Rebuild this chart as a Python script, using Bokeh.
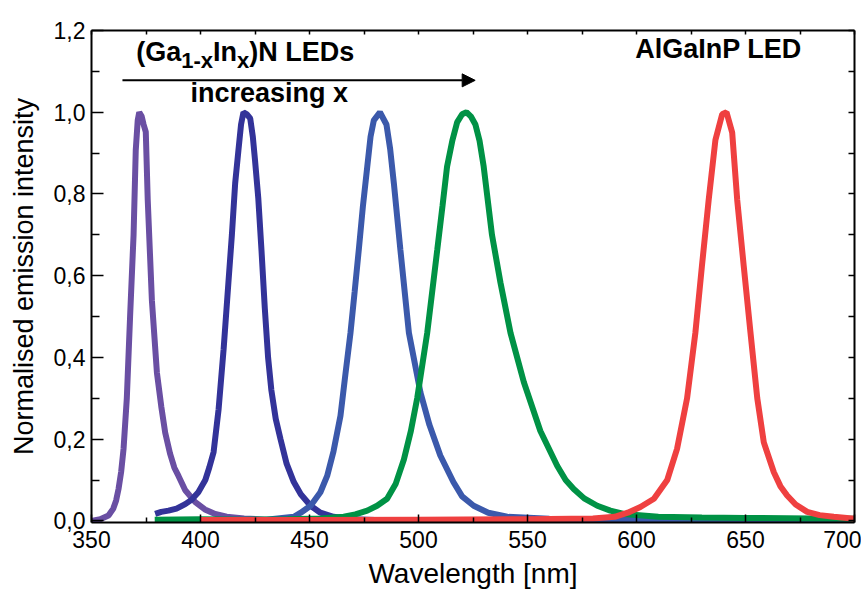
from bokeh.plotting import figure
from bokeh.models import (LinearAxis, FixedTicker, CustomJSTickFormatter, Range1d,
                          Label, Arrow, NormalHead, CustomLabelingPolicy)
from bokeh.embed import file_html
from bokeh.resources import INLINE

# ---------------- data ----------------
wl_purple = [350, 354, 357.8, 360, 361.3, 362.4, 363.6, 364.7, 366.2, 367.7, 369.3, 370.3,
             371.2, 371.9, 373.0, 373.9, 374.9, 375.8, 377.7, 380, 382, 383.8, 386, 388,
             389.9, 393, 397.6, 402, 406.7, 412, 420, 430, 445]
int_purple = [0.0, 0.004, 0.013, 0.03, 0.05, 0.078, 0.12, 0.176, 0.30, 0.50, 0.70, 0.907,
              0.98, 1.0, 0.99, 0.97, 0.952, 0.785, 0.54, 0.363, 0.28, 0.216, 0.165, 0.13,
              0.11, 0.075, 0.046, 0.028, 0.017, 0.01, 0.006, 0.003, 0.001]

wl_navy = [379.2, 382, 385.3, 389, 393, 396, 399, 402.2, 404, 406, 408.3, 410.6, 412.8,
           414.4, 415.9, 417.4, 418.6, 419.7, 421.3, 422.8, 424, 425, 426.5, 428, 429.5,
           431, 432.5, 434.5, 436.7, 439.5, 442.8, 446, 450.5, 455, 461, 470, 480, 500]
int_navy = [0.017, 0.022, 0.025, 0.03, 0.041, 0.052, 0.07, 0.10, 0.13, 0.168, 0.273, 0.42,
            0.583, 0.70, 0.826, 0.907, 0.97, 1.0, 0.995, 0.985, 0.94, 0.883, 0.79, 0.66,
            0.52, 0.40, 0.32, 0.25, 0.2, 0.14, 0.095, 0.065, 0.037, 0.02, 0.01, 0.004,
            0.002, 0.0]

wl_blue = [420, 430, 442.8, 446, 450.5, 455, 458.1, 461, 464.2, 466.5, 468.8, 470.7, 472.6,
           474.5, 476.5, 478, 479.5, 482.3, 485.3, 487, 488.7, 491.7, 495.6, 500.9, 505,
           510, 516, 520, 525.3, 532, 540.7, 560, 600, 650, 700]
int_blue = [0.0, 0.003, 0.01, 0.02, 0.037, 0.07, 0.11, 0.17, 0.257, 0.36, 0.46, 0.56, 0.663,
            0.77, 0.867, 0.94, 0.98, 1.0, 0.97, 0.91, 0.826, 0.663, 0.46, 0.314, 0.235,
            0.16, 0.095, 0.06, 0.037, 0.02, 0.01, 0.005, 0.003, 0.002, 0.002]

wl_green = [379, 400, 420, 440, 455, 465.7, 471, 476.5, 481, 485.6, 489.5, 493.3, 496.5,
            499.4, 504, 508.6, 511, 513.1, 515.5, 517.7, 520, 522, 524, 526.1, 528, 529.9,
            533.7, 537.6, 542.2, 548.3, 555.9, 563.6, 567.5, 571.2, 576, 582, 588, 594.2,
            610, 630, 650, 680, 701]
int_green = [0.003, 0.004, 0.003, 0.004, 0.006, 0.01, 0.016, 0.025, 0.037, 0.054, 0.09,
             0.15, 0.22, 0.30, 0.46, 0.663, 0.77, 0.867, 0.93, 0.975, 0.995, 1.0, 0.99,
             0.97, 0.93, 0.867, 0.70, 0.583, 0.46, 0.34, 0.22, 0.135, 0.10, 0.078, 0.055,
             0.037, 0.025, 0.017, 0.01, 0.008, 0.007, 0.006, 0.005]

wl_red = [400, 450, 500, 550, 580, 590, 596, 601.8, 608, 614.1, 618.6, 623.2, 627, 630,
          633.1, 636.2, 639.3, 641.3, 643.9, 646.2, 649.2, 652.3, 655.4, 658.4, 663, 666,
          669.1, 673, 678.3, 684, 690.5, 701]
int_red = [0.002, 0.002, 0.003, 0.004, 0.006, 0.01, 0.02, 0.034, 0.054, 0.10, 0.176, 0.30,
           0.46, 0.623, 0.785, 0.932, 0.995, 1.0, 0.95, 0.785, 0.623, 0.46, 0.30, 0.192,
           0.119, 0.085, 0.062, 0.04, 0.022, 0.014, 0.01, 0.005]

x_ticks = [350, 400, 450, 500, 550, 600, 650, 700]
y_ticks = [0.0, 0.2, 0.4, 0.6, 0.8, 1.0, 1.2]

FONT = "Liberation Sans"

p = figure(width=861, height=597, output_backend="svg", toolbar_location=None,
           x_range=Range1d(350, 700), y_range=Range1d(-0.004, 1.2),
           min_border_left=91, min_border_right=7, min_border_top=30, min_border_bottom=75,
           x_axis_label="Wavelength [nm]", y_axis_label="Normalised emission intensity")
p.grid.visible = False
p.outline_line_color = None
p.background_fill_color = "white"
p.border_fill_color = "white"

hide_all = CustomLabelingPolicy(code="""
    for (const i of Array.from(indices)) indices.unset(i);
    return indices;
""")

def style_axis(ax, ticks, show_labels, major_len, minor_len):
    ax.ticker = FixedTicker(ticks=ticks,
                            minor_ticks=[t + (ticks[1] - ticks[0]) / 2 for t in ticks[:-1]])
    ax.axis_line_width = 2
    ax.axis_line_color = "black"
    ax.major_tick_in = major_len
    ax.major_tick_out = 0
    ax.minor_tick_in = minor_len
    ax.minor_tick_out = 0
    ax.major_tick_line_width = 1.5
    ax.minor_tick_line_width = 1.5
    if show_labels:
        ax.major_label_text_font = FONT
        ax.major_label_text_font_size = "23px"
        ax.major_label_text_color = "black"
        ax.axis_label_text_font = FONT
        ax.axis_label_text_font_style = "normal"
        ax.axis_label_text_color = "black"
    else:
        ax.major_label_text_font_size = "1px"
        ax.major_label_standoff = 0
        ax.major_label_policy = hide_all
        ax.axis_label = None

style_axis(p.xaxis[0], x_ticks, True, 8, 5)
p.xaxis[0].major_label_standoff = 8
p.xaxis[0].axis_label_standoff = 7
p.xaxis[0].axis_label_text_font_size = "28px"

style_axis(p.yaxis[0], y_ticks, True, 12, 8)
p.yaxis[0].major_label_standoff = 6
p.yaxis[0].axis_label_standoff = 12
p.yaxis[0].axis_label_text_font_size = "27px"
p.yaxis[0].formatter = CustomJSTickFormatter(code="return tick.toFixed(1).replace('.', ',');")

top = LinearAxis()
style_axis(top, x_ticks, False, 4, 4)
p.add_layout(top, "above")
right = LinearAxis()
style_axis(right, y_ticks, False, 6, 6)
p.add_layout(right, "right")

LW = 6
p.line(wl_purple, int_purple, line_color="#6A4FA3", line_width=LW)
p.line(wl_navy, int_navy, line_color="#333399", line_width=LW)
p.line(wl_blue, int_blue, line_color="#3B59AB", line_width=LW)
p.line(wl_green, int_green, line_color="#009245", line_width=LW)
p.line(wl_red, int_red, line_color="#EF4040", line_width=LW)

# ---------------- annotations ----------------
p.add_layout(Arrow(end=NormalHead(size=13, fill_color="black", line_color="black"),
                   x_start=364.2, y_start=1.078, x_end=526, y_end=1.078,
                   line_color="black", line_width=2))

MAIN = 27
SUB = 22
bx, by = 370.5, 1.147
pieces = [("(Ga", MAIN, 0, 1.667), ("1-x", SUB, -8, 1.445), ("In", MAIN, 0, 0.889),
          ("x", SUB, -8, 0.556), (")N LEDs", MAIN, 0, 3.889)]
off = 0.0
for txt, size, dy, em in pieces:
    p.add_layout(Label(x=bx, y=by, x_offset=off, y_offset=dy, text=txt,
                       text_font=FONT, text_font_style="bold",
                       text_font_size=f"{size}px", text_color="black",
                       text_align="left", text_baseline="alphabetic"))
    off += em * size

p.add_layout(Label(x=395.4, y=1.047, text="increasing x", text_font=FONT,
                   text_font_style="bold", text_font_size=f"{MAIN}px", text_color="black",
                   text_align="left", text_baseline="alphabetic"))
p.add_layout(Label(x=637.6, y=1.155, text="AlGaInP LED", text_font=FONT,
                   text_font_style="bold", text_font_size=f"{MAIN}px", text_color="black",
                   text_align="center", text_baseline="alphabetic"))

open("out.html", "w").write(file_html(p, INLINE))
